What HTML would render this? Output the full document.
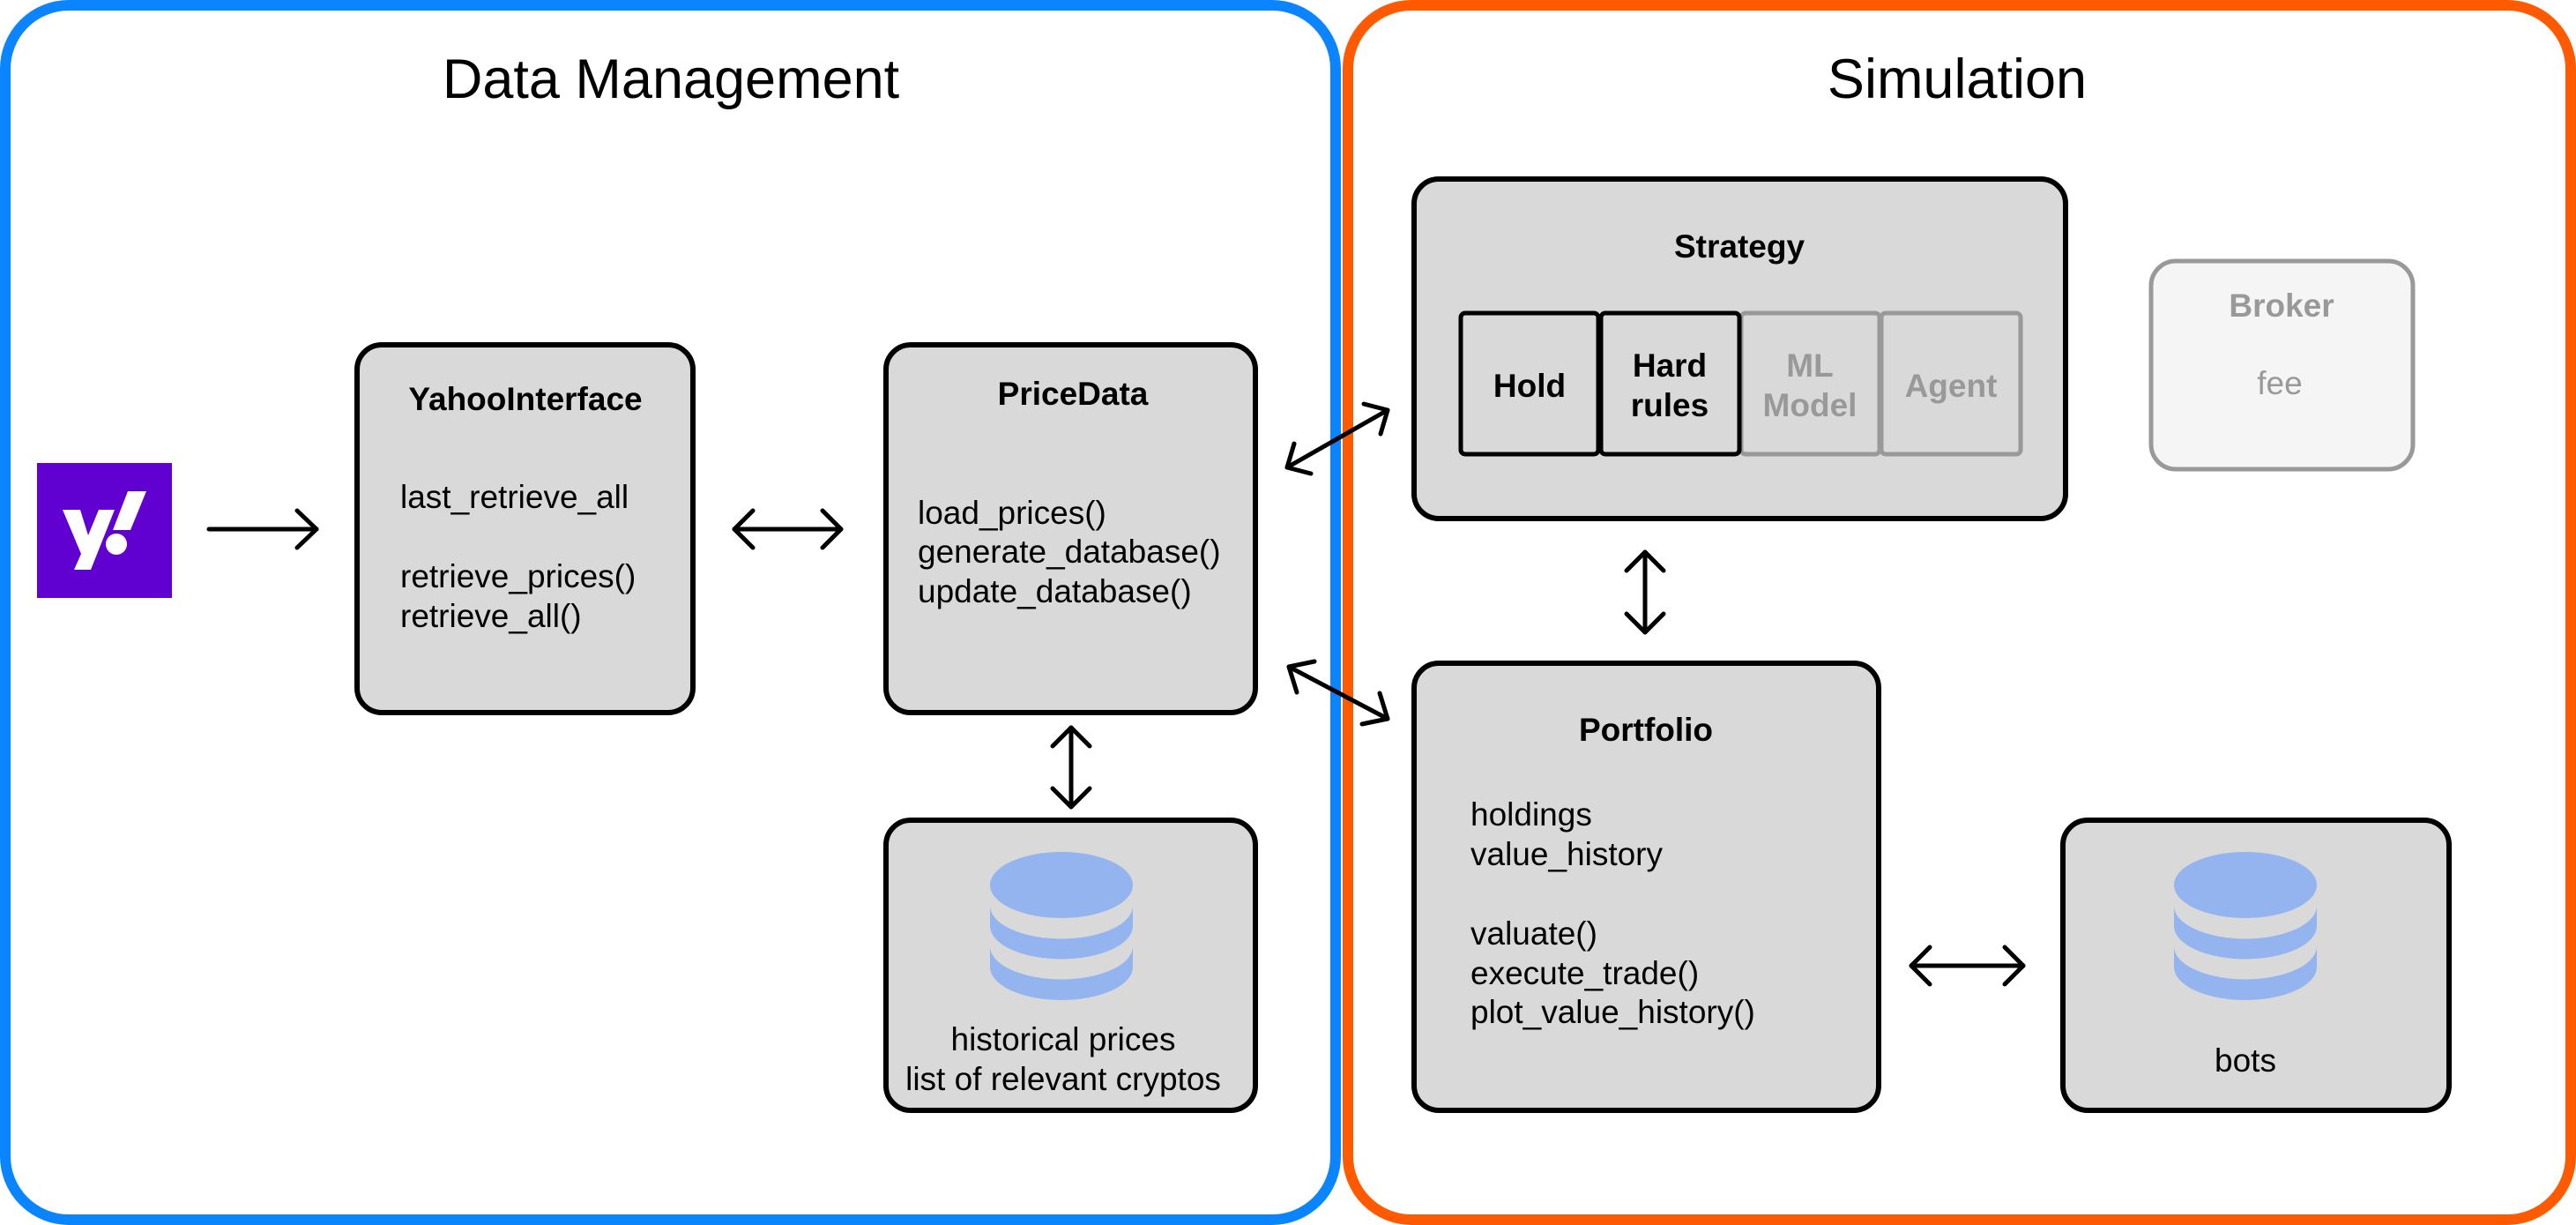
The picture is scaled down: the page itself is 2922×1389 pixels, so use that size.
<!DOCTYPE html>
<html><head><meta charset="utf-8"><style>html,body{margin:0;padding:0;background:#fff}svg{display:block}</style></head>
<body>
<svg width="2922" height="1389" viewBox="0 0 2922 1389" xmlns="http://www.w3.org/2000/svg" font-family="Liberation Sans, Arial, sans-serif">
<defs>
<g id="db">
<ellipse cx="0" cy="37.5" rx="81" ry="37.5" fill="#94b4f0"/>
<path d="M -81 61 A 81 37.5 0 0 0 81 61 L 81 84 A 81 37.5 0 0 1 -81 84 Z" fill="#94b4f0"/>
<path d="M -81 107 A 81 37.5 0 0 0 81 107 L 81 130.5 A 81 37.5 0 0 1 -81 130.5 Z" fill="#94b4f0"/>
</g>
</defs>
<rect x="6" y="6" width="1509" height="1377" rx="72" fill="#fff" stroke="#0a84ff" stroke-width="12"/>
<rect x="1529" y="6" width="1387" height="1377" rx="72" fill="#fff" stroke="#ff5a00" stroke-width="12"/>
<text x="761" y="111" font-size="63" text-anchor="middle" fill="#000">Data Management</text>
<text x="2220" y="111" font-size="63" text-anchor="middle" fill="#000">Simulation</text>

<rect x="42" y="525" width="153" height="153" fill="#6001d2"/>
<polygon points="71,578 91,578 100,607 112,578 130,578 103,646 84,646 92,628" fill="#fff"/>
<polygon points="145,557 166,557 148,601 128,601" fill="#fff"/>
<circle cx="132" cy="617" r="12" fill="#fff"/>

<g stroke="#000" stroke-width="5" fill="none" stroke-linecap="round" stroke-linejoin="round">
<line x1="237" y1="600" x2="359" y2="600"/><polyline points="337,579 359,600 337,621"/>
<line x1="833" y1="600" x2="954" y2="600"/><polyline points="854,579 833,600 854,621"/><polyline points="933,579 954,600 933,621"/>
<line x1="1215" y1="825" x2="1215" y2="915"/><polyline points="1194,846 1215,825 1236,846"/><polyline points="1194,894 1215,915 1236,894"/>
<line x1="1866" y1="626" x2="1866" y2="717"/><polyline points="1845,647 1866,626 1887,647"/><polyline points="1845,696 1866,717 1887,696"/>
<line x1="2168" y1="1095" x2="2295" y2="1095"/><polyline points="2189,1074 2168,1095 2189,1116"/><polyline points="2274,1074 2295,1095 2274,1116"/>
<line x1="1460" y1="530" x2="1574" y2="465"/><polyline points="1468,503 1460,530 1487,537"/><polyline points="1547,458 1574,465 1566,492"/>
<line x1="1462" y1="756" x2="1574" y2="815"/><polyline points="1471,785 1462,756 1491,750"/><polyline points="1545,821 1574,815 1565,786"/>
</g>

<rect x="405" y="391" width="381" height="417" rx="28" fill="#d9d9d9" stroke="#000" stroke-width="6"/>
<text x="596" y="465" font-size="37" font-weight="bold" text-anchor="middle">YahooInterface</text>
<g font-size="37"><text x="454" y="576">last_retrieve_all</text><text x="454" y="666">retrieve_prices()</text><text x="454" y="711">retrieve_all()</text></g>

<rect x="1005" y="391" width="419" height="417" rx="28" fill="#d9d9d9" stroke="#000" stroke-width="6"/>
<text x="1217" y="459" font-size="37" font-weight="bold" text-anchor="middle">PriceData</text>
<g font-size="37"><text x="1041" y="594">load_prices()</text><text x="1041" y="638">generate_database()</text><text x="1041" y="683">update_database()</text></g>

<rect x="1005" y="930" width="419" height="329" rx="28" fill="#d9d9d9" stroke="#000" stroke-width="6"/>
<use href="#db" x="1204" y="966"/>
<g font-size="37" text-anchor="middle"><text x="1206" y="1191">historical prices</text><text x="1206" y="1236">list of relevant cryptos</text></g>

<rect x="1604" y="203" width="739" height="385" rx="28" fill="#d9d9d9" stroke="#000" stroke-width="6"/>
<text x="1973" y="292" font-size="37" font-weight="bold" text-anchor="middle">Strategy</text>
<rect x="1975" y="355" width="157" height="160" rx="5" fill="none" stroke="#999" stroke-width="5"/>
<rect x="2134" y="355" width="158" height="160" rx="5" fill="none" stroke="#999" stroke-width="5"/>
<rect x="1657" y="355" width="156" height="160" rx="5" fill="none" stroke="#000" stroke-width="5"/>
<rect x="1816" y="355" width="157" height="160" rx="5" fill="none" stroke="#000" stroke-width="5"/>
<g font-size="37" font-weight="bold" text-anchor="middle">
<text x="1735" y="450">Hold</text>
<text x="1894" y="427">Hard</text><text x="1894" y="472">rules</text>
<text x="2053" y="427" fill="#999">ML</text><text x="2053" y="472" fill="#999">Model</text>
<text x="2213" y="450" fill="#999">Agent</text>
</g>

<rect x="2440" y="296" width="297" height="236" rx="28" fill="#f5f5f5" stroke="#999" stroke-width="5"/>
<text x="2588" y="359" font-size="37" font-weight="bold" text-anchor="middle" fill="#999">Broker</text>
<text x="2586" y="447" font-size="37" text-anchor="middle" fill="#999">fee</text>

<rect x="1604" y="752" width="527" height="507" rx="28" fill="#d9d9d9" stroke="#000" stroke-width="6"/>
<text x="1867" y="840" font-size="37" font-weight="bold" text-anchor="middle">Portfolio</text>
<g font-size="37"><text x="1668" y="936">holdings</text><text x="1668" y="981">value_history</text><text x="1668" y="1071">valuate()</text><text x="1668" y="1116">execute_trade()</text><text x="1668" y="1160">plot_value_history()</text></g>

<rect x="2340" y="930" width="438" height="329" rx="28" fill="#d9d9d9" stroke="#000" stroke-width="6"/>
<use href="#db" x="2547" y="966"/>
<text x="2547" y="1215" font-size="37" text-anchor="middle">bots</text>
</svg>
</body></html>
